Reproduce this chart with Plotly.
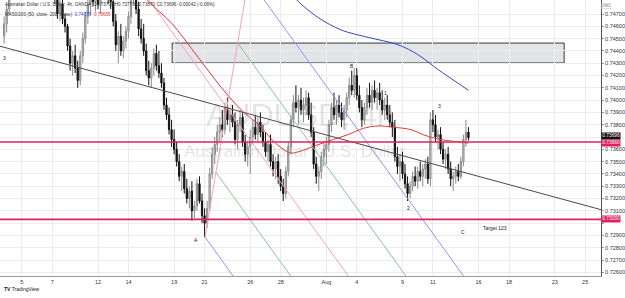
import plotly.graph_objects as go
import numpy as np

# ---------------- data (AUDUSD 4h, OANDA) ----------------
# x positions are trading-day offsets from 5 Jul (weekends removed), 6 bars per day
first_bar_day = -7 / 6

opens = [
    0.7452,
    0.7462, 0.7474, 0.7490, 0.7500, 0.7515, 0.7510,   # Jul 2
    0.7512, 0.7515, 0.7520, 0.7525, 0.7522, 0.7518,   # Jul 5
    0.7524, 0.7555, 0.7580, 0.7548, 0.7530, 0.7512,   # Jul 6
    0.7505, 0.7495, 0.7482, 0.7470, 0.7478, 0.7466,   # Jul 7
    0.7460, 0.7444, 0.7430, 0.7436, 0.7426, 0.7416,   # Jul 8
    0.7436, 0.7450, 0.7468, 0.7478, 0.7484, 0.7480,   # Jul 9
    0.7488, 0.7478, 0.7486, 0.7494, 0.7490, 0.7484,   # Jul 12
    0.7480, 0.7464, 0.7445, 0.7452, 0.7440, 0.7448,   # Jul 13
    0.7456, 0.7468, 0.7485, 0.7492, 0.7474, 0.7458,   # Jul 14
    0.7450, 0.7440, 0.7424, 0.7418, 0.7426, 0.7438,   # Jul 15
    0.7428, 0.7422, 0.7414, 0.7396, 0.7388, 0.7376,   # Jul 16
    0.7368, 0.7360, 0.7350, 0.7338, 0.7342, 0.7328,   # Jul 19
    0.7320, 0.7326, 0.7310, 0.7314, 0.7332, 0.7318,   # Jul 20
    0.7306, 0.7300, 0.7312, 0.7340, 0.7356, 0.7364,   # Jul 21
    0.7374, 0.7380, 0.7376, 0.7394, 0.7384, 0.7388,   # Jul 22
    0.7382, 0.7368, 0.7380, 0.7386, 0.7366, 0.7356,   # Jul 23
    0.7362, 0.7370, 0.7378, 0.7372, 0.7382, 0.7374,   # Jul 26
    0.7366, 0.7358, 0.7364, 0.7350, 0.7344, 0.7350,   # Jul 27
    0.7338, 0.7330, 0.7324, 0.7342, 0.7362, 0.7384,   # Jul 28
    0.7398, 0.7394, 0.7400, 0.7392, 0.7396, 0.7402,   # Jul 29
    0.7388, 0.7374, 0.7348, 0.7338, 0.7342, 0.7354,   # Jul 30
    0.7360, 0.7364, 0.7380, 0.7394, 0.7388, 0.7396,   # Aug 2
    0.7390, 0.7384, 0.7392, 0.7402, 0.7412, 0.7408,   # Aug 3
    0.7420, 0.7404, 0.7394, 0.7384, 0.7394, 0.7404,   # Aug 4
    0.7398, 0.7408, 0.7402, 0.7406, 0.7400, 0.7392,   # Aug 5
    0.7396, 0.7388, 0.7382, 0.7378, 0.7354, 0.7346,   # Aug 6
    0.7350, 0.7340, 0.7332, 0.7324, 0.7330, 0.7338,   # Aug 9
    0.7334, 0.7342, 0.7338, 0.7344, 0.7348, 0.7336,   # Aug 10
    0.7384, 0.7380, 0.7370, 0.7372, 0.7360, 0.7352,   # Aug 11
    0.7356, 0.7344, 0.7336, 0.7338, 0.7342, 0.7338,   # Aug 12
    0.7350, 0.7368, 0.7374,                           # Aug 13
]
highs = [
    0.7468,
    0.7478, 0.7495, 0.7505, 0.7520, 0.7525, 0.7518,
    0.7520, 0.7525, 0.7530, 0.7535, 0.7530, 0.7528,
    0.7560, 0.7599, 0.7585, 0.7555, 0.7540, 0.7520,
    0.7510, 0.7500, 0.7490, 0.7482, 0.7484, 0.7470,
    0.7462, 0.7450, 0.7440, 0.7445, 0.7432, 0.7440,
    0.7455, 0.7472, 0.7485, 0.7490, 0.7495, 0.7492,
    0.7498, 0.7490, 0.7500, 0.7505, 0.7498, 0.7492,
    0.7486, 0.7470, 0.7456, 0.7462, 0.7452, 0.7460,
    0.7472, 0.7490, 0.7500, 0.7498, 0.7480, 0.7466,
    0.7462, 0.7446, 0.7432, 0.7430, 0.7442, 0.7445,
    0.7440, 0.7430, 0.7418, 0.7402, 0.7394, 0.7384,
    0.7376, 0.7366, 0.7356, 0.7346, 0.7348, 0.7336,
    0.7330, 0.7334, 0.7318, 0.7336, 0.7338, 0.7324,
    0.7312, 0.7318, 0.7345, 0.7362, 0.7370, 0.7380,
    0.7386, 0.7392, 0.7398, 0.7402, 0.7392, 0.7396,
    0.7390, 0.7384, 0.7392, 0.7390, 0.7372, 0.7366,
    0.7376, 0.7384, 0.7388, 0.7386, 0.7390, 0.7380,
    0.7374, 0.7368, 0.7372, 0.7356, 0.7354, 0.7356,
    0.7344, 0.7336, 0.7346, 0.7366, 0.7388, 0.7404,
    0.7412, 0.7404, 0.7410, 0.7402, 0.7408, 0.7406,
    0.7398, 0.7378, 0.7354, 0.7346, 0.7358, 0.7366,
    0.7370, 0.7384, 0.7398, 0.7406, 0.7400, 0.7404,
    0.7398, 0.7396, 0.7406, 0.7418, 0.7424, 0.7426,
    0.7426, 0.7412, 0.7400, 0.7398, 0.7410, 0.7414,
    0.7412, 0.7416, 0.7410, 0.7414, 0.7408, 0.7402,
    0.7404, 0.7396, 0.7390, 0.7384, 0.7362, 0.7356,
    0.7358, 0.7348, 0.7338, 0.7334, 0.7342, 0.7346,
    0.7346, 0.7350, 0.7348, 0.7352, 0.7354, 0.7390,
    0.7392, 0.7388, 0.7376, 0.7378, 0.7366, 0.7360,
    0.7362, 0.7350, 0.7342, 0.7346, 0.7348, 0.7354,
    0.7372, 0.7384, 0.7378,
]
lows = [
    0.7446,
    0.7455, 0.7470, 0.7485, 0.7495, 0.7505, 0.7502,
    0.7505, 0.7508, 0.7512, 0.7515, 0.7510, 0.7512,
    0.7520, 0.7550, 0.7540, 0.7520, 0.7505, 0.7500,
    0.7490, 0.7478, 0.7466, 0.7464, 0.7462, 0.7455,
    0.7440, 0.7424, 0.7420, 0.7422, 0.7410, 0.7412,
    0.7430, 0.7446, 0.7462, 0.7470, 0.7476, 0.7472,
    0.7474, 0.7470, 0.7482, 0.7486, 0.7478, 0.7474,
    0.7460, 0.7440, 0.7430, 0.7436, 0.7434, 0.7442,
    0.7450, 0.7462, 0.7478, 0.7470, 0.7452, 0.7446,
    0.7436, 0.7420, 0.7412, 0.7410, 0.7420, 0.7424,
    0.7418, 0.7410, 0.7392, 0.7384, 0.7372, 0.7362,
    0.7356, 0.7346, 0.7334, 0.7326, 0.7324, 0.7316,
    0.7312, 0.7302, 0.7304, 0.7310, 0.7316, 0.7300,
    0.72885, 0.7296, 0.7310, 0.7336, 0.7348, 0.7358,
    0.7366, 0.7370, 0.7372, 0.7380, 0.7374, 0.7378,
    0.7364, 0.7360, 0.7374, 0.7362, 0.7350, 0.7346,
    0.7340, 0.7364, 0.7368, 0.7366, 0.7370, 0.7362,
    0.7354, 0.7350, 0.7346, 0.7338, 0.7336, 0.7332,
    0.7326, 0.7318, 0.7320, 0.7338, 0.7356, 0.7378,
    0.7390, 0.7380, 0.7388, 0.7382, 0.7388, 0.7384,
    0.7370, 0.7344, 0.7332, 0.7326, 0.7336, 0.7346,
    0.7348, 0.7358, 0.7374, 0.7384, 0.7380, 0.7386,
    0.7378, 0.7376, 0.7386, 0.7396, 0.7404, 0.7402,
    0.7400, 0.7390, 0.7378, 0.7380, 0.7388, 0.7394,
    0.7392, 0.7398, 0.7392, 0.7396, 0.7388, 0.7384,
    0.7384, 0.7378, 0.7370, 0.7350, 0.7340, 0.7334,
    0.7336, 0.7328, 0.7318, 0.7320, 0.7326, 0.7330,
    0.7328, 0.7334, 0.7330, 0.7336, 0.7332, 0.7330,
    0.7374, 0.7366, 0.7360, 0.7356, 0.7348, 0.7344,
    0.7340, 0.7330, 0.7326, 0.7332, 0.7334, 0.7336,
    0.7346, 0.7362, 0.7367,
]
closes = [
    0.7462,
    0.7474, 0.7490, 0.7500, 0.7515, 0.7510, 0.7512,
    0.7515, 0.7520, 0.7525, 0.7522, 0.7518, 0.7524,
    0.7555, 0.7580, 0.7548, 0.7530, 0.7512, 0.7505,
    0.7495, 0.7482, 0.7470, 0.7478, 0.7466, 0.7460,
    0.7444, 0.7430, 0.7436, 0.7426, 0.7416, 0.7436,
    0.7450, 0.7468, 0.7478, 0.7484, 0.7480, 0.7488,
    0.7478, 0.7486, 0.7494, 0.7490, 0.7484, 0.7480,
    0.7464, 0.7445, 0.7452, 0.7440, 0.7448, 0.7456,
    0.7468, 0.7485, 0.7492, 0.7474, 0.7458, 0.7450,
    0.7440, 0.7424, 0.7418, 0.7426, 0.7438, 0.7428,
    0.7422, 0.7414, 0.7396, 0.7388, 0.7376, 0.7368,
    0.7360, 0.7350, 0.7338, 0.7342, 0.7328, 0.7320,
    0.7326, 0.7310, 0.7314, 0.7332, 0.7318, 0.7306,
    0.7300, 0.7312, 0.7340, 0.7356, 0.7364, 0.7374,
    0.7380, 0.7376, 0.7394, 0.7384, 0.7388, 0.7382,
    0.7368, 0.7380, 0.7386, 0.7366, 0.7356, 0.7362,
    0.7370, 0.7378, 0.7372, 0.7382, 0.7374, 0.7366,
    0.7358, 0.7364, 0.7350, 0.7344, 0.7350, 0.7338,
    0.7330, 0.7324, 0.7342, 0.7362, 0.7384, 0.7398,
    0.7394, 0.7400, 0.7392, 0.7396, 0.7402, 0.7388,
    0.7374, 0.7348, 0.7338, 0.7342, 0.7354, 0.7360,
    0.7364, 0.7380, 0.7394, 0.7388, 0.7396, 0.7390,
    0.7384, 0.7392, 0.7402, 0.7412, 0.7408, 0.7420,
    0.7404, 0.7394, 0.7384, 0.7394, 0.7404, 0.7398,
    0.7408, 0.7402, 0.7406, 0.7400, 0.7392, 0.7396,
    0.7388, 0.7382, 0.7378, 0.7354, 0.7346, 0.7350,
    0.7340, 0.7332, 0.7324, 0.7330, 0.7338, 0.7334,
    0.7342, 0.7338, 0.7344, 0.7348, 0.7336, 0.7384,
    0.7380, 0.7370, 0.7372, 0.7360, 0.7352, 0.7356,
    0.7344, 0.7336, 0.7338, 0.7342, 0.7338, 0.7350,
    0.7368, 0.7374, 0.73696,
]

# moving averages (trading day, price)
ma50_days = [8.0, 8.24, 9.02, 9.80, 10.65, 11.63, 12.61, 13.59, 14.58, 15.56, 16.34, 17.06,
             17.65, 18.17, 19.28, 20.46, 21.44, 22.42, 23.40, 24.38, 25.56, 26.34, 27.12,
             28.0, 28.76, 29.33]
ma50_vals = [0.7484, 0.7481, 0.7472, 0.7463, 0.7450, 0.7434, 0.7418, 0.7403, 0.7390, 0.7380,
             0.7369, 0.7361, 0.7357, 0.7358, 0.7363, 0.7368, 0.7372, 0.7377, 0.7379, 0.7378,
             0.7376, 0.7372, 0.7369, 0.7367, 0.7366, 0.7365]
ma200_days = [17.9, 18.17, 19.48, 20.98, 22.75, 24.71, 26.01, 27.32, 28.50, 29.33]
ma200_vals = [0.7484, 0.7480, 0.7467, 0.7457, 0.7451, 0.7445, 0.7437, 0.7425, 0.7415, 0.7408]

# drawings
h_levels = [0.73660, 0.73030]
trend_pts_day = [0.0, 30.0]
trend_pts_price = [0.7439, 0.7338]
zone_days = [9.87, 35.62]
zone_prices = [0.74302, 0.74464]
fork_days = [7.5, 12.03, 14.89]        # pitchfork pivots P0, P1, P2
fork_prices = [0.7496, 0.72887, 0.7499]

wave_labels = ["3", "B", "1", "3", "A", "2", "C", "Target 123"]
wave_days = [-1.11, 21.7, 23.9, 27.4, 11.44, 25.4, 29.0, 31.1]
wave_prices = [0.7434, 0.7428, 0.7406, 0.7395, 0.72863, 0.7312, 0.72928, 0.72960]

tick_days = [0, 2, 5, 7, 10, 12, 15, 17, 20, 22, 25, 27, 30, 32, 35, 37]
tick_labels = ["5", "7", "12", "14", "19", "21", "26", "28", "Aug", "4", "9", "11",
               "16", "18", "23", "25"]
price_ticks = [round(0.726 + 0.001 * k, 3) for k in range(22)]
hidden_price_labels = [0.737, 0.730]   # covered by the price boxes in the original

# ---------------- figure ----------------
x = [first_bar_day + i / 6 for i in range(len(closes))]
fig = go.Figure()

XR = [-1.438, 38.04]
YR = [0.72570, 0.74814]

# zone rectangle
fig.add_shape(type="rect", x0=zone_days[0], x1=zone_days[1], y0=zone_prices[0], y1=zone_prices[1],
              line=dict(color="#3a3a3a", width=1), fillcolor="rgba(190,195,205,0.45)", layer="below")

# pitchfork
P0 = np.array([fork_days[0], fork_prices[0]])
P1 = np.array([fork_days[1], fork_prices[1]])
P2 = np.array([fork_days[2], fork_prices[2]])
M = (P1 + P2) / 2
v = M - P0
def ray(p, color, t_end=6.0):
    q = p + v * t_end
    fig.add_trace(go.Scatter(x=[p[0], q[0]], y=[p[1], q[1]], mode="lines",
                             line=dict(color=color, width=1), hoverinfo="skip", showlegend=False))
fig.add_trace(go.Scatter(x=[P1[0], P2[0]], y=[P1[1], P2[1]], mode="lines",
                         line=dict(color="#f7a1bd", width=1), hoverinfo="skip", showlegend=False))
ray(P0, "#f7a1bd", 8.0)
ray(P1, "#8f97f2")
ray(P2, "#8f97f2")
ray(P1 + (P2 - P1) * 0.25, "#86c98a")
ray(P1 + (P2 - P1) * 0.75, "#86c98a")

# trend line
slope = (trend_pts_price[1] - trend_pts_price[0]) / (trend_pts_day[1] - trend_pts_day[0])
tx = [XR[0] - 1, XR[1] + 1]
ty = [trend_pts_price[0] + slope * (t - trend_pts_day[0]) for t in tx]
fig.add_trace(go.Scatter(x=tx, y=ty, mode="lines", line=dict(color="#4a4a4a", width=1),
                         hoverinfo="skip", showlegend=False))

# horizontal levels
for lv in h_levels:
    fig.add_trace(go.Scatter(x=[XR[0] - 1, XR[1] + 1], y=[lv, lv], mode="lines",
                             line=dict(color="#e0215f", width=1.6), hoverinfo="skip", showlegend=False))

# candles
fig.add_trace(go.Candlestick(
    x=x, open=opens, high=highs, low=lows, close=closes,
    increasing=dict(line=dict(color="#8a8a8a", width=1), fillcolor="#d4d4d4"),
    decreasing=dict(line=dict(color="#111111", width=1), fillcolor="#111111"),
    whiskerwidth=0, showlegend=False, hoverinfo="skip"))

# moving averages
fig.add_trace(go.Scatter(x=ma50_days, y=ma50_vals, mode="lines", line=dict(color="#e53935", width=1, shape="spline"),
                         hoverinfo="skip", showlegend=False))
fig.add_trace(go.Scatter(x=ma200_days, y=ma200_vals, mode="lines", line=dict(color="#3347c4", width=1, shape="spline"),
                         hoverinfo="skip", showlegend=False))

ann = []
# watermark
ann.append(dict(x=0.5, y=0.7388, xref="paper", yref="y", text="AUDUSD, 4h", showarrow=False,
                font=dict(size=32, color="rgba(110,115,125,0.2)")))
ann.append(dict(x=0.49, y=0.7358, xref="paper", yref="y", text="Australian Dollar / U.S. Dollar", showarrow=False,
                font=dict(size=17, color="rgba(110,115,125,0.2)")))
# wave labels
for t, d, p in zip(wave_labels, wave_days, wave_prices):
    ann.append(dict(x=d, y=p, xref="x", yref="y", text=t, showarrow=False,
                    font=dict(size=5, color="#222")))
# header legend
ann.append(dict(x=0.005, y=0.999, xref="paper", yref="paper", xanchor="left", yanchor="top", showarrow=False,
                text="Australian Dollar / U.S. Dollar, 4h, OANDA  O0.73738 H0.73779 L0.73670 C0.73696 -0.00042 (-0.06%)",
                font=dict(size=4.6, color="#333")))
ann.append(dict(x=0.005, y=0.965, xref="paper", yref="paper", xanchor="left", yanchor="top", showarrow=False,
                text="MA50/200 (50, close, 200, close)  <span style='color:#3347c4'>0.74079</span>  <span style='color:#e53935'>0.73655</span>",
                font=dict(size=4.6, color="#333")))
# price boxes on the axis
for val, bg, yoff in [(0.73696, "#131313", 1.5), (0.73660, "#e0215f", -1.5), (0.73030, "#e0215f", 0)]:
    ann.append(dict(x=1.0, y=val, xref="paper", yref="y", xanchor="left", showarrow=False, yshift=yoff,
                    text=f"{val:.5f}", bgcolor=bg, borderpad=0.3, font=dict(size=4.8, color="white")))
ann.append(dict(x=1.016, y=0.988, xref="paper", yref="paper", showarrow=False, text="USD",
                bordercolor="#bbb", borderwidth=0.5, borderpad=0.5, font=dict(size=3.8, color="#666")))
ann.append(dict(x=0.004, y=-0.066, xref="paper", yref="paper", xanchor="left", showarrow=False,
                text="<b>TV</b> TradingView", font=dict(size=5, color="#131722")))

fig.update_layout(
    width=625, height=298, margin=dict(l=0, r=21, t=0, b=22),
    paper_bgcolor="white", plot_bgcolor="white",
    font=dict(family="Liberation Sans, Arial, sans-serif", size=5.5, color="#333"),
    showlegend=False, hovermode=False, annotations=ann,
    xaxis=dict(range=XR, tickmode="array", tickvals=tick_days, ticktext=tick_labels,
               showgrid=True, gridcolor="#ececec", gridwidth=1, zeroline=False,
               showline=True, linecolor="#9a9a9a", linewidth=1, ticks="", ticklen=0,
               rangeslider=dict(visible=False), tickfont=dict(size=5.5)),
    yaxis=dict(range=YR, side="right", tickmode="array", tickvals=price_ticks,
               ticktext=["" if p in hidden_price_labels else f"{p:.5f}" for p in price_ticks],
               showgrid=True, gridcolor="#ececec", gridwidth=1, zeroline=False,
               showline=True, linecolor="#555", linewidth=1, ticks="outside", ticklen=2,
               tickcolor="#999", tickfont=dict(size=5.5)),
)

fig.write_html("out.html")
